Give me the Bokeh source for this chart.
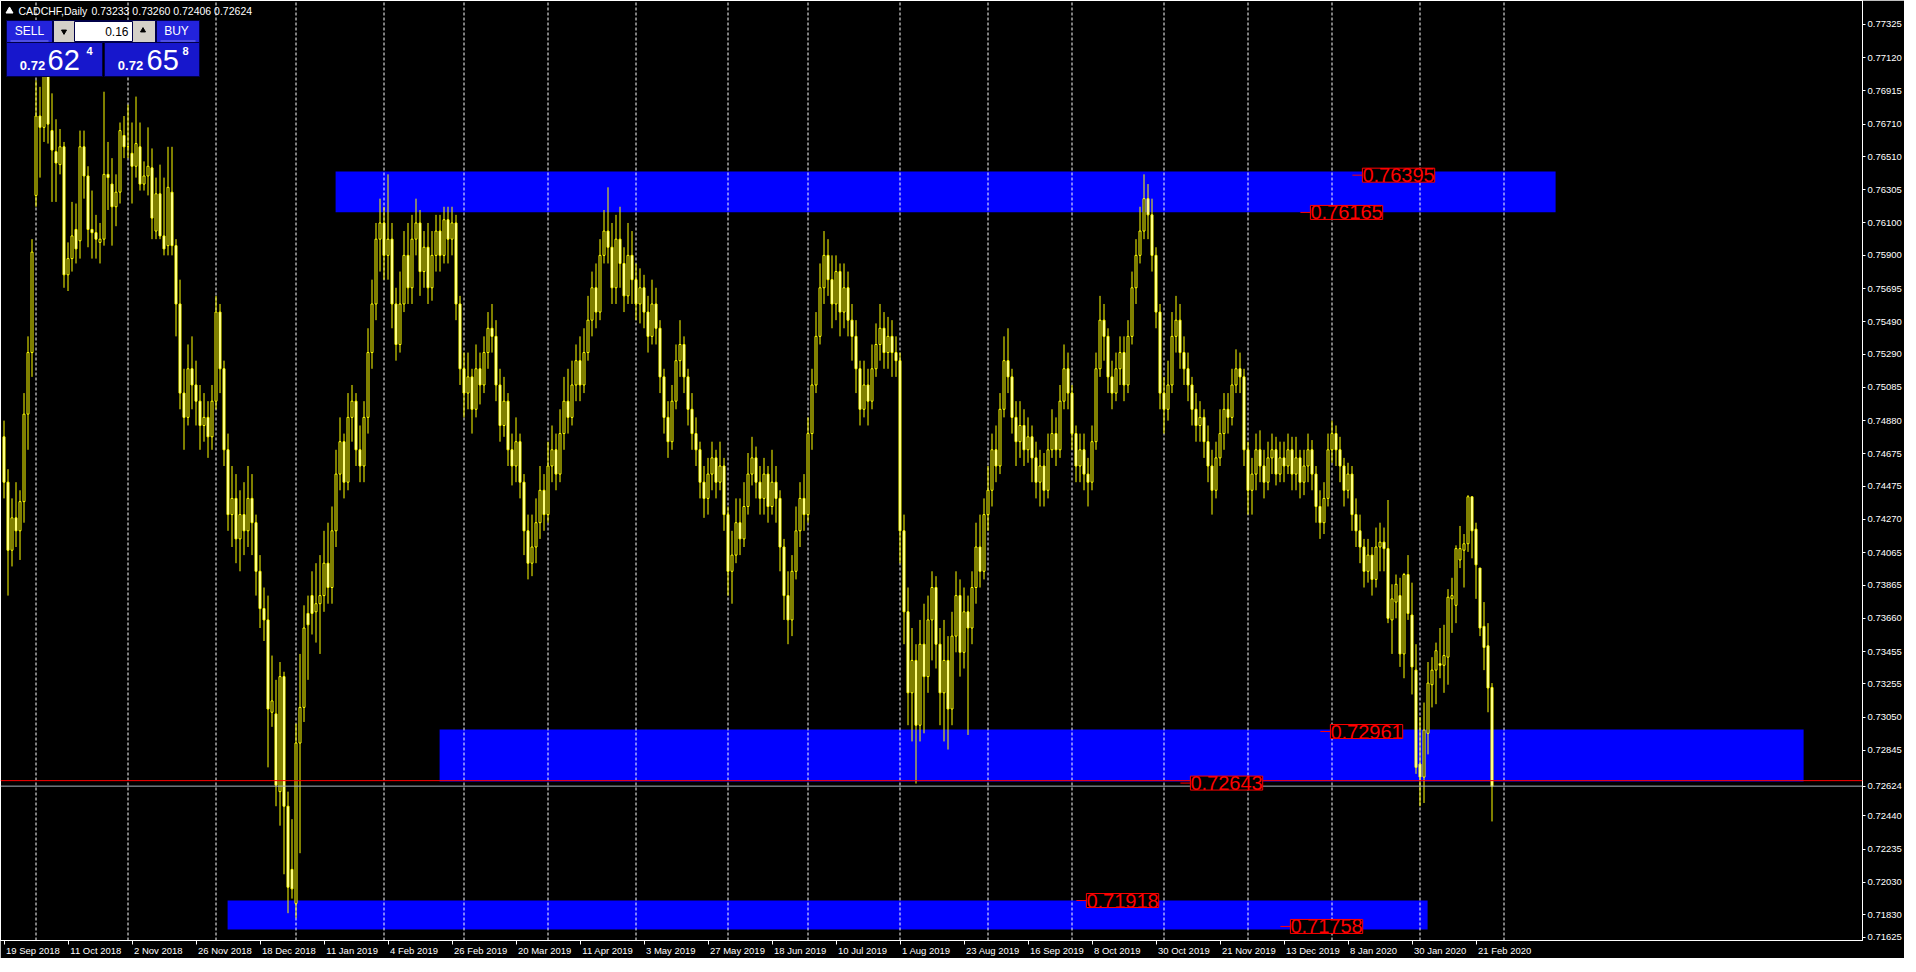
from bokeh.plotting import figure
from bokeh.models import Range1d, LinearAxis, FixedTicker, PrintfTickFormatter, Label, Span
from bokeh.core.properties import value
from bokeh.embed import file_html
from bokeh.resources import INLINE

# ---------------- data (prices in units of 0.0001) ----------------
symbol = "CADCHF,Daily"
header_ohlc = "0.73233 0.73260 0.72406 0.72624"

open_p = [7478,7450,7408,7428,7420,7438,7492,7530,7627,7676, 7669,7706,7667,7654,7646,7657,7578,7588,7606,7599,
          7657,7639,7606,7604,7598,7600,7640,7634,7620,7629, 7664,7657,7653,7645,7657,7634,7639,7644,7605,7628,
          7602,7596,7629,7596,7560,7505,7490,7520,7510,7500, 7485,7490,7478,7500,7555,7520,7470,7430,7440,7415,
          7430,7420,7440,7425,7395,7372,7365,7308,7307,7259, 7330,7250,7211,7190,7289,7311,7369,7380,7370,7375,
          7380,7400,7385,7420,7455,7475,7450,7490,7500,7470, 7460,7490,7530,7560,7600,7610,7590,7600,7560,7535,
          7560,7590,7570,7600,7610,7580,7595,7570,7590,7605, 7590,7612,7600,7610,7560,7520,7505,7515,7495,7520,
          7510,7530,7545,7540,7510,7485,7500,7470,7460,7475, 7450,7420,7400,7410,7425,7445,7430,7460,7470,7455,
          7480,7500,7490,7510,7525,7510,7530,7550,7570,7555, 7590,7605,7595,7570,7600,7585,7565,7590,7575,7560,
          7570,7555,7540,7560,7545,7515,7490,7475,7500,7525, 7535,7515,7495,7480,7470,7450,7440,7455,7465,7450,
          7460,7430,7395,7405,7425,7415,7435,7455,7465,7450, 7440,7455,7435,7450,7440,7410,7380,7365,7395,7420,
          7440,7430,7480,7510,7540,7570,7590,7575,7560,7580, 7555,7570,7550,7540,7520,7495,7510,7500,7520,7535,
          7545,7530,7540,7530,7525,7420,7370,7320,7340,7300, 7350,7330,7365,7385,7350,7320,7340,7310,7355,7380,
          7345,7370,7360,7385,7410,7395,7430,7445,7470,7460, 7495,7525,7515,7490,7475,7485,7470,7478,7465,7450,
          7460,7445,7470,7480,7470,7500,7520,7505,7480,7460, 7470,7455,7450,7475,7520,7550,7540,7515,7505,7520,
          7530,7510,7540,7570,7590,7605,7625,7615,7590,7555, 7505,7495,7510,7540,7550,7530,7520,7510,7495,7485,
          7490,7475,7460,7445,7465,7480,7495,7490,7510,7520, 7515,7470,7445,7455,7470,7460,7450,7465,7470,7455,
          7465,7460,7470,7455,7465,7450,7460,7470,7455,7435, 7425,7440,7470,7480,7470,7460,7445,7455,7430,7420,
          7410,7395,7405,7390,7410,7413,7409,7365,7376,7380, 7344,7393,7368,7334,7276,7268,7295,7325,7334,7338,
          7337,7342,7378,7374,7402,7408,7412,7441,7421,7397, 7361,7349,7323.3]

high_p = [7488,7458,7440,7450,7445,7505,7540,7600,7698,7694, 7712,7712,7690,7674,7668,7660,7598,7623,7622,7667,
          7667,7645,7630,7615,7610,7691,7660,7650,7640,7672, 7676,7683,7672,7688,7672,7648,7669,7656,7638,7646,
          7638,7657,7657,7600,7575,7520,7535,7540,7525,7510, 7505,7500,7510,7565,7560,7525,7480,7460,7455,7445,
          7450,7460,7455,7430,7405,7385,7380,7343,7328,7339, 7333,7259,7242,7301,7344,7374,7380,7395,7400,7405,
          7420,7425,7435,7470,7490,7480,7505,7510,7505,7485, 7500,7545,7575,7610,7625,7620,7640,7610,7570,7580,
          7605,7610,7615,7625,7618,7605,7610,7605,7615,7615, 7620,7620,7620,7615,7565,7530,7530,7520,7535,7530,
          7540,7555,7560,7550,7520,7515,7505,7480,7490,7480, 7455,7430,7430,7440,7460,7455,7475,7485,7480,7495,
          7515,7520,7525,7535,7540,7545,7565,7580,7585,7600, 7618,7632,7610,7615,7620,7595,7610,7605,7585,7582,
          7578,7565,7575,7570,7550,7520,7500,7510,7535,7550, 7540,7520,7505,7490,7475,7460,7465,7475,7470,7475,
          7465,7435,7420,7440,7440,7450,7468,7478,7472,7460, 7465,7460,7470,7460,7445,7415,7395,7405,7435,7450,
          7455,7490,7520,7555,7585,7605,7600,7590,7590,7585, 7585,7580,7560,7550,7525,7525,7520,7535,7548,7560,
          7555,7552,7550,7540,7530,7430,7385,7360,7350,7365, 7375,7380,7395,7392,7360,7365,7355,7370,7395,7390,
          7385,7380,7395,7425,7430,7440,7460,7480,7485,7505, 7540,7545,7520,7500,7500,7495,7490,7485,7475,7470,
          7468,7480,7495,7490,7510,7535,7530,7510,7485,7480, 7480,7465,7485,7530,7565,7560,7545,7525,7530,7540,
          7540,7550,7580,7600,7620,7640,7634,7625,7595,7560, 7515,7525,7555,7565,7560,7540,7530,7515,7505,7500,
          7495,7485,7470,7475,7495,7505,7505,7520,7532,7530, 7520,7475,7465,7480,7482,7470,7475,7480,7478,7475,
          7475,7480,7478,7478,7470,7470,7480,7476,7460,7445, 7450,7480,7488,7485,7478,7465,7462,7460,7440,7430,
          7415,7415,7410,7422,7425,7422,7439,7387,7393,7391, 7394,7405,7388,7350,7305,7314,7339,7342,7351,7360,
          7362,7384,7391,7411,7423,7418,7442,7441,7425,7397, 7376,7363,7326.0]

low_p = [7440,7380,7398,7410,7402,7425,7470,7515,7620,7638, 7660,7659,7623,7623,7640,7570,7568,7580,7585,7588,
         7625,7595,7588,7588,7585,7596,7618,7596,7608,7622, 7650,7650,7622,7638,7630,7630,7627,7600,7600,7600,
         7590,7590,7590,7540,7495,7470,7485,7495,7485,7470, 7475,7465,7470,7495,7505,7460,7420,7410,7400,7395,
         7405,7410,7405,7380,7360,7352,7274,7299,7250,7238, 7208,7184,7193,7181,7221,7302,7328,7356,7351,7344,
         7370,7375,7375,7410,7445,7440,7445,7475,7460,7450, 7450,7480,7520,7550,7580,7575,7575,7545,7525,7530,
         7555,7560,7560,7590,7565,7570,7560,7562,7580,7580, 7585,7585,7590,7550,7510,7490,7495,7480,7490,7498,
         7505,7520,7530,7500,7475,7478,7460,7448,7450,7440, 7405,7390,7392,7400,7415,7420,7425,7450,7445,7450,
         7470,7480,7485,7500,7500,7505,7525,7540,7545,7550, 7585,7585,7560,7560,7570,7555,7560,7560,7550,7548,
         7545,7530,7535,7535,7505,7480,7465,7470,7495,7515, 7505,7485,7470,7460,7440,7428,7430,7445,7440,7445,
         7420,7380,7375,7400,7405,7410,7430,7448,7440,7430, 7430,7425,7430,7425,7395,7365,7350,7355,7390,7410,
         7420,7425,7470,7505,7535,7560,7565,7545,7550,7540, 7545,7540,7525,7505,7485,7490,7485,7495,7515,7525,
         7520,7520,7515,7515,7400,7350,7300,7290,7264,7290, 7295,7320,7340,7335,7300,7290,7285,7300,7345,7330,
         7335,7294,7350,7375,7385,7390,7420,7435,7450,7455, 7490,7505,7480,7460,7465,7460,7462,7450,7440,7435,
         7435,7440,7465,7460,7465,7495,7495,7470,7450,7450, 7445,7435,7445,7470,7515,7525,7505,7495,7500,7510,
         7500,7505,7535,7560,7585,7600,7600,7580,7545,7495, 7480,7488,7505,7530,7520,7510,7500,7485,7475,7475,
         7465,7450,7430,7440,7460,7470,7480,7485,7505,7505, 7460,7430,7430,7445,7450,7440,7445,7455,7448,7450,
         7450,7455,7445,7445,7440,7442,7450,7445,7425,7415, 7418,7435,7462,7460,7450,7435,7440,7420,7410,7400,
         7385,7388,7380,7385,7395,7395,7363,7344,7366,7336, 7329,7365,7319,7270,7250,7252,7282,7311,7313,7329,
         7320,7325,7357,7363,7397,7385,7407,7403,7378,7355, 7334,7308,7240.6]

close_p = [7450,7408,7428,7420,7438,7492,7530,7592,7676,7669, 7706,7671,7655,7647,7657,7578,7588,7602,7594,7657,
           7639,7606,7604,7600,7600,7640,7638,7620,7629,7667, 7657,7657,7645,7659,7634,7639,7645,7613,7628,7602,
           7594,7632,7596,7560,7505,7490,7520,7510,7500,7485, 7490,7478,7500,7555,7520,7470,7430,7440,7415,7430,
           7420,7440,7425,7395,7372,7365,7310,7315,7263,7330, 7250,7200,7199,7289,7311,7360,7362,7369,7375,7380,
           7400,7385,7420,7455,7475,7450,7490,7500,7470,7460, 7490,7530,7560,7600,7610,7590,7600,7560,7535,7560,
           7590,7570,7600,7610,7580,7595,7570,7590,7605,7590, 7612,7600,7610,7560,7520,7505,7515,7495,7520,7510,
           7530,7545,7540,7510,7485,7500,7470,7460,7475,7450, 7420,7400,7410,7425,7445,7430,7460,7470,7455,7480,
           7500,7490,7510,7525,7510,7530,7550,7570,7555,7590, 7605,7595,7570,7600,7585,7565,7590,7575,7560,7570,
           7555,7540,7560,7545,7515,7490,7475,7500,7525,7535, 7515,7495,7480,7470,7450,7440,7455,7465,7450,7460,
           7430,7395,7405,7425,7415,7435,7455,7465,7450,7440, 7455,7435,7450,7440,7410,7380,7365,7395,7420,7440,
           7430,7480,7510,7540,7570,7590,7575,7560,7580,7555, 7570,7550,7540,7520,7495,7510,7500,7520,7535,7545,
           7530,7540,7530,7525,7420,7370,7320,7340,7300,7350, 7330,7365,7385,7350,7320,7340,7310,7355,7380,7345,
           7370,7360,7385,7410,7395,7430,7445,7470,7460,7495, 7525,7515,7490,7475,7485,7470,7478,7465,7450,7460,
           7445,7470,7480,7470,7500,7520,7505,7480,7460,7470, 7455,7450,7475,7520,7550,7540,7515,7505,7520,7530,
           7510,7540,7570,7590,7605,7625,7615,7590,7555,7505, 7495,7510,7540,7550,7530,7520,7510,7495,7485,7490,
           7475,7460,7445,7465,7480,7495,7490,7510,7520,7515, 7470,7445,7455,7470,7460,7450,7465,7470,7455,7465,
           7460,7470,7455,7465,7450,7460,7470,7455,7435,7425, 7440,7470,7480,7470,7460,7445,7455,7430,7420,7410,
           7395,7405,7390,7410,7413,7409,7366,7378,7387,7344, 7393,7369,7336,7274,7268,7297,7326,7334,7346,7337,
           7343,7379,7380,7409,7409,7412,7441,7420,7399,7360, 7348,7323,7262.4]

# bottom axis: a label every 16 bars
date_labels = ["19 Sep 2018", "11 Oct 2018", "2 Nov 2018", "26 Nov 2018", "18 Dec 2018", "11 Jan 2019",
               "4 Feb 2019", "26 Feb 2019", "20 Mar 2019", "11 Apr 2019", "3 May 2019", "27 May 2019",
               "18 Jun 2019", "10 Jul 2019", "1 Aug 2019", "23 Aug 2019", "16 Sep 2019", "8 Oct 2019",
               "30 Oct 2019", "21 Nov 2019", "13 Dec 2019", "8 Jan 2020", "30 Jan 2020", "21 Feb 2020"]
date_label_bar = [0, 16, 32, 48, 64, 80, 96, 112, 128, 144, 160, 176, 192, 208, 224, 240, 256, 272,
                  288, 304, 320, 336, 352, 368]
# month period separators (bar index of first bar of each month)
month_sep_bar = [8, 31, 53, 73, 95, 115, 136, 158, 181, 201, 224, 246, 267, 290, 311, 332, 354, 375]

price_ticks = [0.77325, 0.77120, 0.76915, 0.76710, 0.76510, 0.76305, 0.76100, 0.75900, 0.75695, 0.75490,
               0.75290, 0.75085, 0.74880, 0.74675, 0.74475, 0.74270, 0.74065, 0.73865, 0.73660, 0.73455,
               0.73255, 0.73050, 0.72845, 0.72440, 0.72235, 0.72030, 0.71830]
price_bottom_tick = 0.71625

# support / resistance zones (bar index, price)
zone_left = [82.9, 108.9, 55.9]
zone_right = [387.9, 449.9, 355.9]
zone_top = [0.76418, 0.72974, 0.71918]
zone_bottom = [0.76166, 0.72653, 0.71739]

# price labels
plabel_text = ["0.76395", "0.76165", "0.72961", "0.72643", "0.71918", "0.71758"]
plabel_bar = [337.1, 324.1, 329.1, 294.1, 268.1, 319.1]

bid = 0.72624
ask = 0.72658
lot = "0.16"
sell_quote = ["0.72", "62", "4"]
buy_quote = ["0.72", "65", "8"]

# ---------------- pixel geometry of the reference ----------------
X0, PXB = 3.5, 4.0            # pixel of bar 0, pixels per bar
YREF, YREF_PX, PXU = 0.71625, 947.5, 16202.0


def X(px):
    return (px - X0) / PXB


def Y(py):
    return YREF + (YREF_PX - py) / PXU


FW, FH = 1862, 940

p = figure(frame_width=FW, frame_height=FH,
           x_range=Range1d(X(0), X(FW)), y_range=Range1d(Y(FH), Y(0)),
           output_backend="svg", toolbar_location=None,
           x_axis_location=None, y_axis_location=None,
           background_fill_color="black", border_fill_color="black",
           outline_line_color="white", outline_line_width=1,
           min_border_left=0, min_border_right=0, min_border_top=0, min_border_bottom=0)
p.xgrid.visible = False
p.ygrid.visible = False

AXF = "Liberation Sans"
# right price scale: regular ticks, the current bid, and the lowest scale value (kept just inside the frame)
bottom_tick_pos = round(Y(FH - 3), 5)
y_tick_vals = price_ticks + [bid, bottom_tick_pos]
y_overrides = {bottom_tick_pos: f"{price_bottom_tick:.5f}"}
yaxis = LinearAxis(ticker=FixedTicker(ticks=y_tick_vals), formatter=PrintfTickFormatter(format="%.5f"),
                   major_label_overrides=y_overrides,
                   axis_line_color="white", major_tick_line_color="white", major_tick_out=3, major_tick_in=0,
                   minor_tick_out=0, minor_tick_in=0, major_label_text_color="white",
                   major_label_text_font=AXF, major_label_text_font_size="9.5px", major_label_standoff=2)
p.add_layout(yaxis, "right")

CW = {" ": 0.278, ".": 0.278, "S": 0.667, "O": 0.778, "N": 0.722, "D": 0.722, "J": 0.5, "F": 0.611,
      "M": 0.833, "A": 0.667, "r": 0.333, "t": 0.278, "l": 0.222, "c": 0.5, "v": 0.5, "y": 0.5}


def text_w(s, fs):
    return sum(CW.get(ch, 0.556) for ch in s) * fs


label_centers = [round(b + (2 + text_w(t, 9.5) / 2) / PXB, 3) for b, t in zip(date_label_bar, date_labels)]
xaxis = LinearAxis(ticker=FixedTicker(ticks=label_centers, minor_ticks=date_label_bar),
                   major_label_overrides={c: t for c, t in zip(label_centers, date_labels)},
                   axis_line_color="white", major_tick_out=0, major_tick_in=0,
                   minor_tick_line_color="white", minor_tick_out=4, minor_tick_in=0,
                   major_label_text_color="white", major_label_text_font=AXF,
                   major_label_text_font_size="9.5px", major_label_standoff=0)
p.add_layout(xaxis, "below")

# zones (background objects)
p.quad(left=zone_left, right=zone_right, top=zone_top, bottom=zone_bottom,
       fill_color="#0000FF", line_color=None)

# period separators
p.segment(x0=month_sep_bar, x1=month_sep_bar, y0=[Y(1000)] * len(month_sep_bar),
          y1=[Y(-20)] * len(month_sep_bar), line_color="white", line_width=1, line_dash="3 2")

# candles: yellow outline and wick, bull body black, bear body white
bars = list(range(len(close_p)))
o = [v / 10000 for v in open_p]
h = [v / 10000 for v in high_p]
lo = [v / 10000 for v in low_p]
c = [v / 10000 for v in close_p]
YEL = "#FFFF00"
p.segment(x0=bars, x1=bars, y0=lo, y1=h, line_color=YEL, line_width=1)
up = [i for i in bars if c[i] >= o[i]]
dn = [i for i in bars if c[i] < o[i]]
p.vbar(x=up, width=0.5, top=[c[i] for i in up], bottom=[o[i] for i in up],
       fill_color="black", line_color=YEL, line_width=1)
p.vbar(x=dn, width=0.5, top=[o[i] for i in dn], bottom=[c[i] for i in dn],
       fill_color="white", line_color=YEL, line_width=1)

# bid / ask lines
p.add_layout(Span(location=ask, dimension="width", line_color="#FF0000", line_width=1))
p.add_layout(Span(location=bid, dimension="width", line_color="#A9B1BA", line_width=1))

# price labels with connector
pl_y = [float(t) for t in plabel_text]
p.segment(x0=plabel_bar, x1=[b + 2.5 for b in plabel_bar], y0=pl_y, y1=pl_y, line_color="#FF0000", line_width=1)
for t, b, yv in zip(plabel_text, plabel_bar, pl_y):
    p.add_layout(Label(x=b + 2.5, y=yv, text=t, text_font=AXF, text_font_size="20px",
                       text_color="#FF0000", text_baseline="middle", text_align="left",
                       background_fill_color="black", border_line_color="#FF0000", border_line_width=1,
                       padding=0))

# ---------------- header and one-click trading panel ----------------
p.scatter(x=[X(9)], y=[Y(10.5)], marker="triangle", size=7, fill_color="white", line_color="white")
p.text(x=[X(18), X(91)], y=[Y(10.8), Y(10.8)], text=[symbol, header_ohlc], text_color="white",
       text_font=value(AXF), text_font_size=value("10.5px"), text_baseline="middle", text_align="left")

boxes = [  # left, right, top, bottom, fill
    (6, 52, 20, 42, "#2323DC"), (156, 199, 20, 42, "#2323DC"),
    (53, 155, 20, 42, "#D4D0C8"), (74, 132, 21, 41, "#FFFFFF"),
    (6, 102, 42, 76, "#1717CC"), (104, 199, 42, 76, "#1717CC")]
p.quad(left=[X(b[0]) for b in boxes], right=[X(b[1]) for b in boxes],
       top=[Y(b[2]) for b in boxes], bottom=[Y(b[3]) for b in boxes],
       fill_color=[b[4] for b in boxes], line_color="#000048", line_width=1)
p.segment(x0=[X(10), X(160)], x1=[X(48), X(195)], y0=[Y(40.5)] * 2, y1=[Y(40.5)] * 2,
          line_color="#7C7CF0", line_width=1)
p.scatter(x=[X(63.5)], y=[Y(31)], marker="inverted_triangle", size=5, fill_color="black", line_color="black")
p.scatter(x=[X(142.5)], y=[Y(30)], marker="triangle", size=5, fill_color="black", line_color="black")


def ptext(x, y, t, size, color="white", align="left", bold=False):
    p.text(x=[X(x)], y=[Y(y)], text=[t], text_color=color, text_font=value(AXF),
           text_font_size=value(size), text_align=align, text_baseline="middle",
           text_font_style="bold" if bold else "normal")


ptext(29, 30.5, "SELL", "12px", align="center")
ptext(176, 30.5, "BUY", "12px", align="center")
ptext(128, 30.5, lot, "12px", color="black", align="right")
ptext(32, 64.5, sell_quote[0], "13px", align="center", bold=True)
ptext(47, 59.5, sell_quote[1], "29px")
ptext(86, 50, sell_quote[2], "11px", bold=True)
ptext(130, 64.5, buy_quote[0], "13px", align="center", bold=True)
ptext(146, 59.5, buy_quote[1], "29px")
ptext(182, 50, buy_quote[2], "11px", bold=True)

open("out.html", "w").write(file_html(p, INLINE))
